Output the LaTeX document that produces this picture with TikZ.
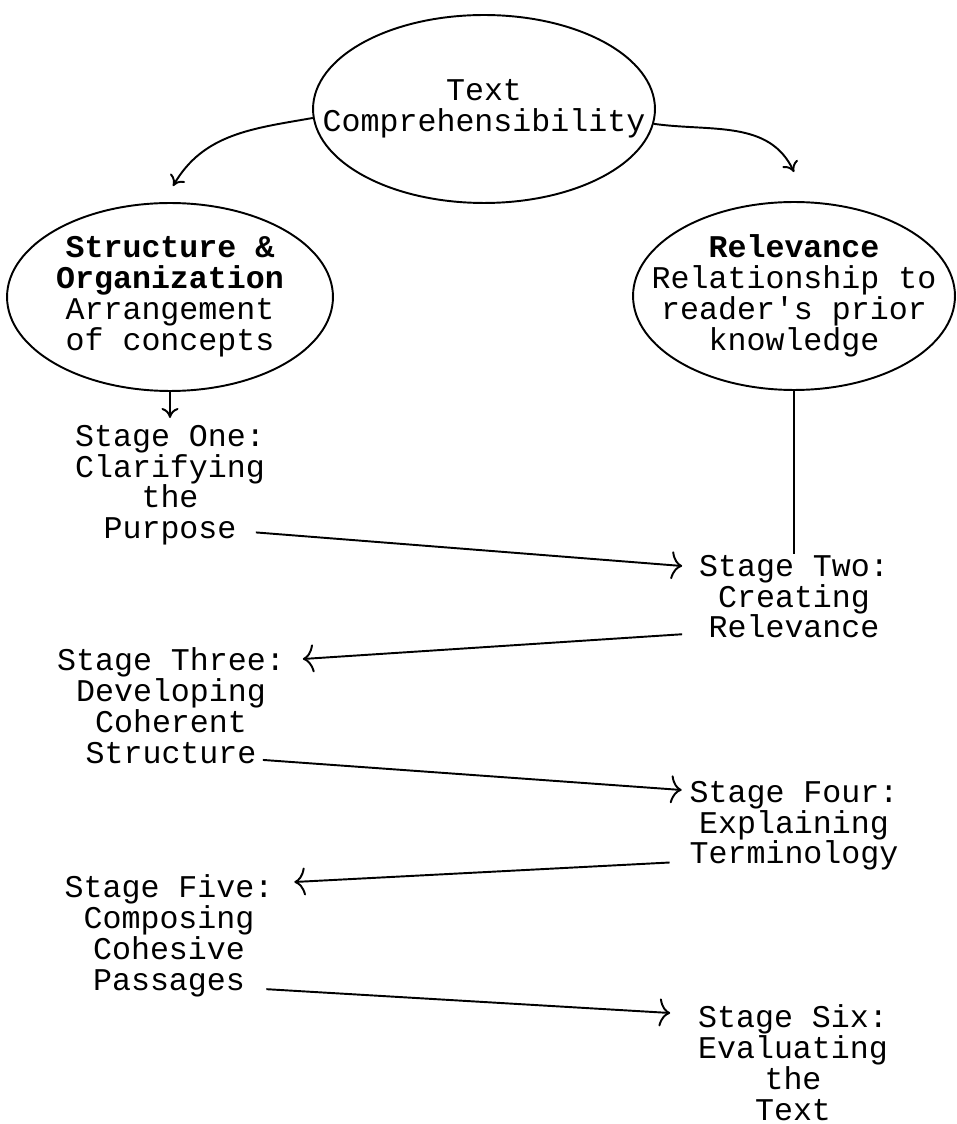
\documentclass[tikz,border=0pt]{standalone}
\usepackage{fontspec}
\usepackage{tikz}
\usetikzlibrary{arrows.meta,shapes.geometric}
\newfontfamily\typewr{Liberation Mono}

\begin{document}
\begin{tikzpicture}[x=0.02cm, y=-0.02cm, line width=1.1pt,
  font=\typewr\fontsize{18}{17.6}\selectfont,
  >={Computer Modern Rightarrow[length=0.22cm,width=0.56cm]},
  smallhead/.style={-{Computer Modern Rightarrow[length=0.2cm,width=0.34cm]}},
  oval/.style={draw, ellipse, inner sep=-2cm, minimum height=3.76cm, align=center},
  stage/.style={anchor=north, inner sep=0pt, align=center}]
\useasboundingbox (0,0) rectangle (956,1124);

% the three ovals
\node[oval, minimum width=6.84cm] (top) at (484,109) {Text\\Comprehensibility};
\node[oval, minimum width=6.52cm] (struct) at (170,297)
  {\textbf{Structure \&}\\\textbf{Organization}\\Arrangement\\of concepts};
\node[oval, minimum width=6.44cm] (rel) at (794,296)
  {\textbf{Relevance}\\Relationship to\\reader\textquotesingle s prior\\knowledge};

% the six stages
\node[stage] (s1) at (170,424) {Stage One:\\Clarifying\\the\\Purpose};
\node[stage] (s2) at (794,554) {Stage Two:\\Creating\\Relevance};
\node[stage] (s3) at (171,647) {Stage Three:\\Developing\\Coherent\\Structure};
\node[stage] (s4) at (794,780) {Stage Four:\\Explaining\\Terminology};
\node[stage] (s5) at (169,874) {Stage Five:\\Composing\\Cohesive\\Passages};
\node[stage] (s6) at (793,1004) {Stage Six:\\Evaluating\\the\\Text};

\draw[smallhead] (top.183) to[out=190,in=60] ([xshift=0.06cm,yshift=0.32cm]struct.north);
\draw[smallhead] (top.-5) to[out=-8,in=115] ([yshift=0.58cm]rel.north);
\draw[smallhead, shorten >=0.12cm] (struct.south) -- (s1.north);
\draw (rel.south) -- (s2.north);

% zig-zag between the columns
\draw[->] ([xshift=-0.2cm,yshift=0.28cm]s1.south east) -- ([xshift=-0.32cm,yshift=-0.24cm]s2.north west);
\draw[->] ([xshift=-0.32cm,yshift=0.1cm]s2.south west) -- ([xshift=0.34cm,yshift=-0.24cm]s3.north east);
\draw[->] ([xshift=-0.46cm,yshift=0.1cm]s3.south east) -- ([xshift=-0.14cm,yshift=-0.2cm]s4.north west);
\draw[->] ([xshift=-0.38cm,yshift=0.18cm]s4.south west) -- ([xshift=0.4cm,yshift=-0.16cm]s5.north east);
\draw[->] ([xshift=-0.16cm,yshift=0.18cm]s5.south east) -- ([xshift=-0.54cm,yshift=-0.18cm]s6.north west);
\end{tikzpicture}
\end{document}
